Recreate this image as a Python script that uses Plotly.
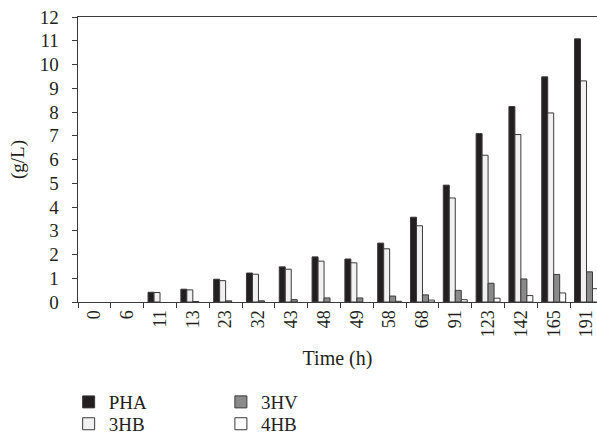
import plotly.graph_objects as go

times = ["0", "6", "11", "13", "23", "32", "43", "48", "49", "58", "68", "91", "123", "142", "165", "191"]
pha = [None, None, 0.41, 0.54, 0.96, 1.22, 1.48, 1.90, 1.81, 2.48, 3.57, 4.92, 7.09, 8.23, 9.48, 11.08]
hb3 = [None, None, 0.40, 0.51, 0.90, 1.17, 1.38, 1.72, 1.65, 2.24, 3.21, 4.38, 6.18, 7.05, 7.96, 9.31]
hv3 = [None, None, None, 0.02, 0.05, 0.05, 0.10, 0.17, 0.17, 0.25, 0.30, 0.49, 0.79, 0.97, 1.16, 1.27]
hb4 = [None, None, None, None, None, None, None, None, None, 0.03, 0.08, 0.10, 0.16, 0.27, 0.38, 0.56]

FONT = "Liberation Serif"
OUT = "#3a3a3a"

# (name, values, fill colour, legend id, legend x, legend y) in container fractions
series = [
    ("PHA", pha, "#231f20", "legend", 0.115, 0.080),
    ("3HB", hb3, "#f1f1f1", "legend3", 0.115, 0.030),
    ("3HV", hv3, "#8a8a8a", "legend2", 0.370, 0.080),
    ("4HB", hb4, "#ffffff", "legend4", 0.370, 0.030),
]

fig = go.Figure()
legends = {}
for name, vals, color, lg, lx, ly in series:
    fig.add_trace(go.Bar(
        x=times, y=vals, name=name, legend=lg,
        marker=dict(color=color, line=dict(color=OUT, width=1)),
    ))
    legends[lg] = dict(xref="container", yref="container", x=lx, y=ly,
                       xanchor="left", yanchor="middle", orientation="v",
                       font=dict(family=FONT, size=19), bgcolor="rgba(0,0,0,0)",
                       itemwidth=30)

fig.update_layout(
    width=597, height=437,
    margin=dict(l=78, r=0, t=17, b=135, autoexpand=False),
    plot_bgcolor="white", paper_bgcolor="white",
    barmode="group", bargap=0.27, bargroupgap=0,
    font=dict(family=FONT, size=19, color="#231f20"),
    showlegend=True,
    annotations=[dict(text="(g/L)", xref="paper", yref="paper",
                      x=-0.1156, y=0.498, xanchor="center", yanchor="middle",
                      textangle=-90, showarrow=False,
                      font=dict(family=FONT, size=19))],
    **legends,
)

fig.update_xaxes(
    type="category", range=[-0.5, 15.32],
    tickangle=-90, tickson="boundaries", ticks="outside", ticklen=5,
    tickcolor=OUT, showline=True, linecolor=OUT, linewidth=1, mirror=True,
    showgrid=False, zeroline=False,
    tickfont=dict(family=FONT, size=18),
    title=dict(text="Time (h)", font=dict(family=FONT, size=20), standoff=14),
)
fig.update_yaxes(
    range=[0, 12], dtick=1, ticks="outside", ticklen=5, tickcolor=OUT,
    showline=True, linecolor=OUT, linewidth=1, showgrid=False, zeroline=False,
    tickfont=dict(family=FONT, size=19), ticksuffix="\u2002",
)

fig.write_html("out.html")
